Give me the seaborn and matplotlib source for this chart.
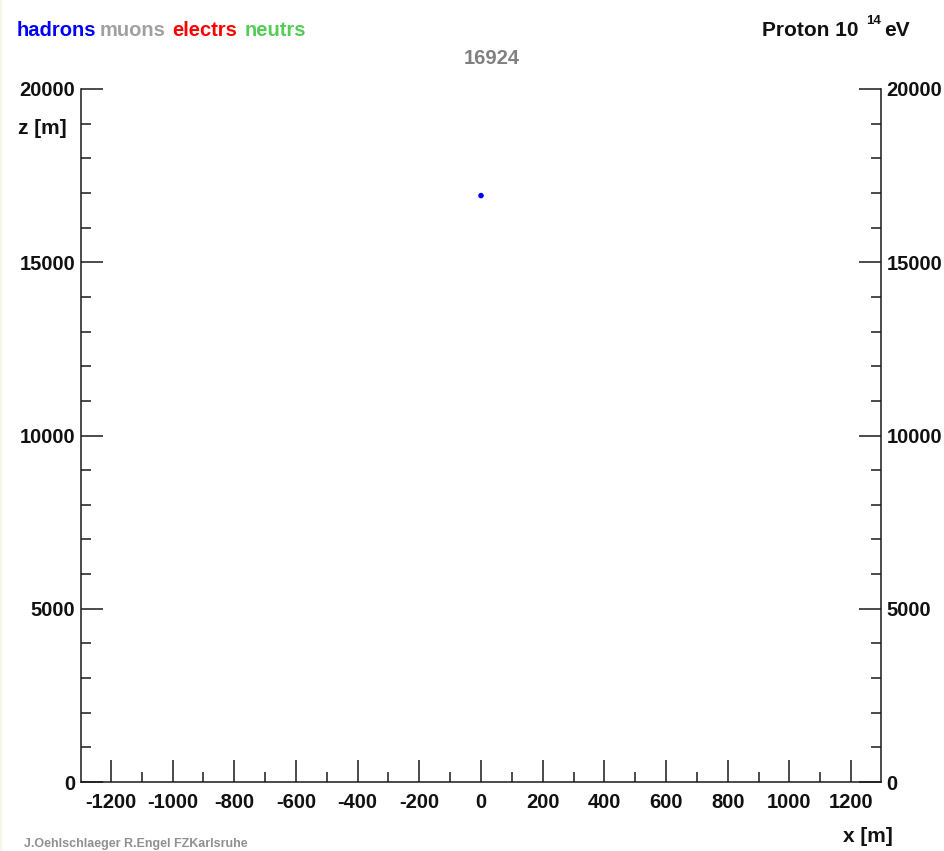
import numpy as np
import pandas as pd
import matplotlib
matplotlib.use("Agg")
import matplotlib.pyplot as plt
from matplotlib.patches import Rectangle
from matplotlib.ticker import MultipleLocator, FixedLocator
import seaborn as sns

# Particle species shown in the legend line and their colours
species = ["hadrons", "muons", "electrs", "neutrs"]
species_colors = ["#0000ff", "#a0a0a0", "#ff0000", "#55cc55"]

# Track points of the shower (x, z in metres) with their species
track_x = [0.0]
track_z = [16924.0]
track_species = ["hadrons"]

first_height = "16924"
primary = "Proton"
energy_exp = "14"
credit = "J.Oehlschlaeger R.Engel FZKarlsruhe"

x_ticks = [-1200, -1000, -800, -600, -400, -200, 0, 200, 400, 600, 800, 1000, 1200]
z_ticks = [0, 5000, 10000, 15000, 20000]

sns.set_theme(style="white")
plt.rcParams["font.family"] = ["Liberation Sans", "DejaVu Sans"]
plt.rcParams["font.weight"] = "bold"

W, H = 945, 851
fig = plt.figure(figsize=(W / 100, H / 100), dpi=100)
fig.patch.set_facecolor("white")


def fx(px):
    return px / W


def fy(py):
    return 1 - py / H


# faint cream strip along the left border of the canvas
fig.patches.append(Rectangle((0, 0), fx(2.5), 1, transform=fig.transFigure,
                             facecolor="#f6f6e6", edgecolor="none", zorder=0))

ax = fig.add_axes([fx(81), fy(782), fx(881) - fx(81), fy(89) - fy(782)])
ax.set_facecolor("white")

df = pd.DataFrame({"x": track_x, "z": track_z, "species": track_species})
sns.scatterplot(data=df, x="x", y="z", hue="species", hue_order=species,
                palette=dict(zip(species, species_colors)), s=16, marker="o",
                edgecolor="none", legend=False, ax=ax)

ax.set_xlim(-1297, 1297)
ax.set_ylim(0, 20000)
ax.set_xlabel("")
ax.set_ylabel("")

ink = "#1a1a1a"
lw = 1.1
for side in ["left", "right", "bottom"]:
    ax.spines[side].set_visible(True)
    ax.spines[side].set_color(ink)
    ax.spines[side].set_linewidth(lw)
ax.spines["top"].set_visible(False)

ax.xaxis.set_major_locator(FixedLocator(x_ticks))
ax.xaxis.set_minor_locator(MultipleLocator(100))
ax.yaxis.set_major_locator(FixedLocator(z_ticks))
ax.yaxis.set_minor_locator(MultipleLocator(1000))

tick_fs = 14.5
ax.tick_params(axis="x", which="major", direction="in", length=16, width=lw,
               color=ink, bottom=True, top=False, labelsize=tick_fs, pad=8,
               labelcolor="#111111")
ax.tick_params(axis="x", which="minor", direction="in", length=7.5, width=lw,
               color=ink, bottom=True, top=False)
ax.tick_params(axis="y", which="major", direction="in", length=16, width=lw,
               color=ink, left=True, right=True, labelleft=True,
               labelright=True, labelsize=tick_fs, pad=4, labelcolor="#111111")
ax.tick_params(axis="y", which="minor", direction="in", length=7.5, width=lw,
               color=ink, left=True, right=True)

ax.set_xticklabels([str(v) for v in x_ticks], fontweight="bold")
ax.set_yticklabels([str(v) for v in z_ticks], fontweight="bold")
for t in ax.yaxis.get_major_ticks():
    t.label2.set_fontweight("bold")

# Axis titles
fig.text(fx(18), fy(128), "z [m]", fontsize=15, fontweight="bold",
         ha="left", va="center", color="#111111")
fig.text(fx(893), fy(836), "x [m]", fontsize=15, fontweight="bold",
         ha="right", va="center", color="#111111")

# Species legend line, each word placed right after the previous one
legend_fs = 14.5
prev = fig.text(fx(17), fy(36), species[0], fontsize=legend_fs,
                fontweight="bold", color=species_colors[0], ha="left",
                va="baseline")
gaps = [3, 7, 7]
for name, col, g in zip(species[1:], species_colors[1:], gaps):
    prev = ax.annotate(name, xy=(1, 0), xycoords=prev, xytext=(g, 0),
                       textcoords="offset pixels", fontsize=legend_fs,
                       fontweight="bold", color=col, ha="left", va="bottom",
                       annotation_clip=False)

# Primary particle and energy
p = fig.text(fx(762), fy(36), primary + " 10", fontsize=15, fontweight="bold",
             color="#111111", ha="left", va="baseline")
ax.annotate(energy_exp, xy=(1, 1), xycoords=p, xytext=(8, -6),
            textcoords="offset pixels", fontsize=9.5, fontweight="bold",
            color="#111111", ha="left", va="bottom", annotation_clip=False)
ax.annotate("eV", xy=(1, 0), xycoords=p, xytext=(26, 0),
            textcoords="offset pixels", fontsize=15, fontweight="bold",
            color="#111111", ha="left", va="bottom", annotation_clip=False)

# Height of the first interaction
fig.text(fx(492), fy(59), first_height, fontsize=14.5, fontweight="bold",
         color="#808080", ha="center", va="center")

# Credit line at the bottom edge
fig.text(fx(24), fy(838), credit, fontsize=9, fontweight="bold",
         color="#909090", ha="left", va="top")

fig.savefig("out.png", dpi=100, facecolor="white")
plt.close(fig)
